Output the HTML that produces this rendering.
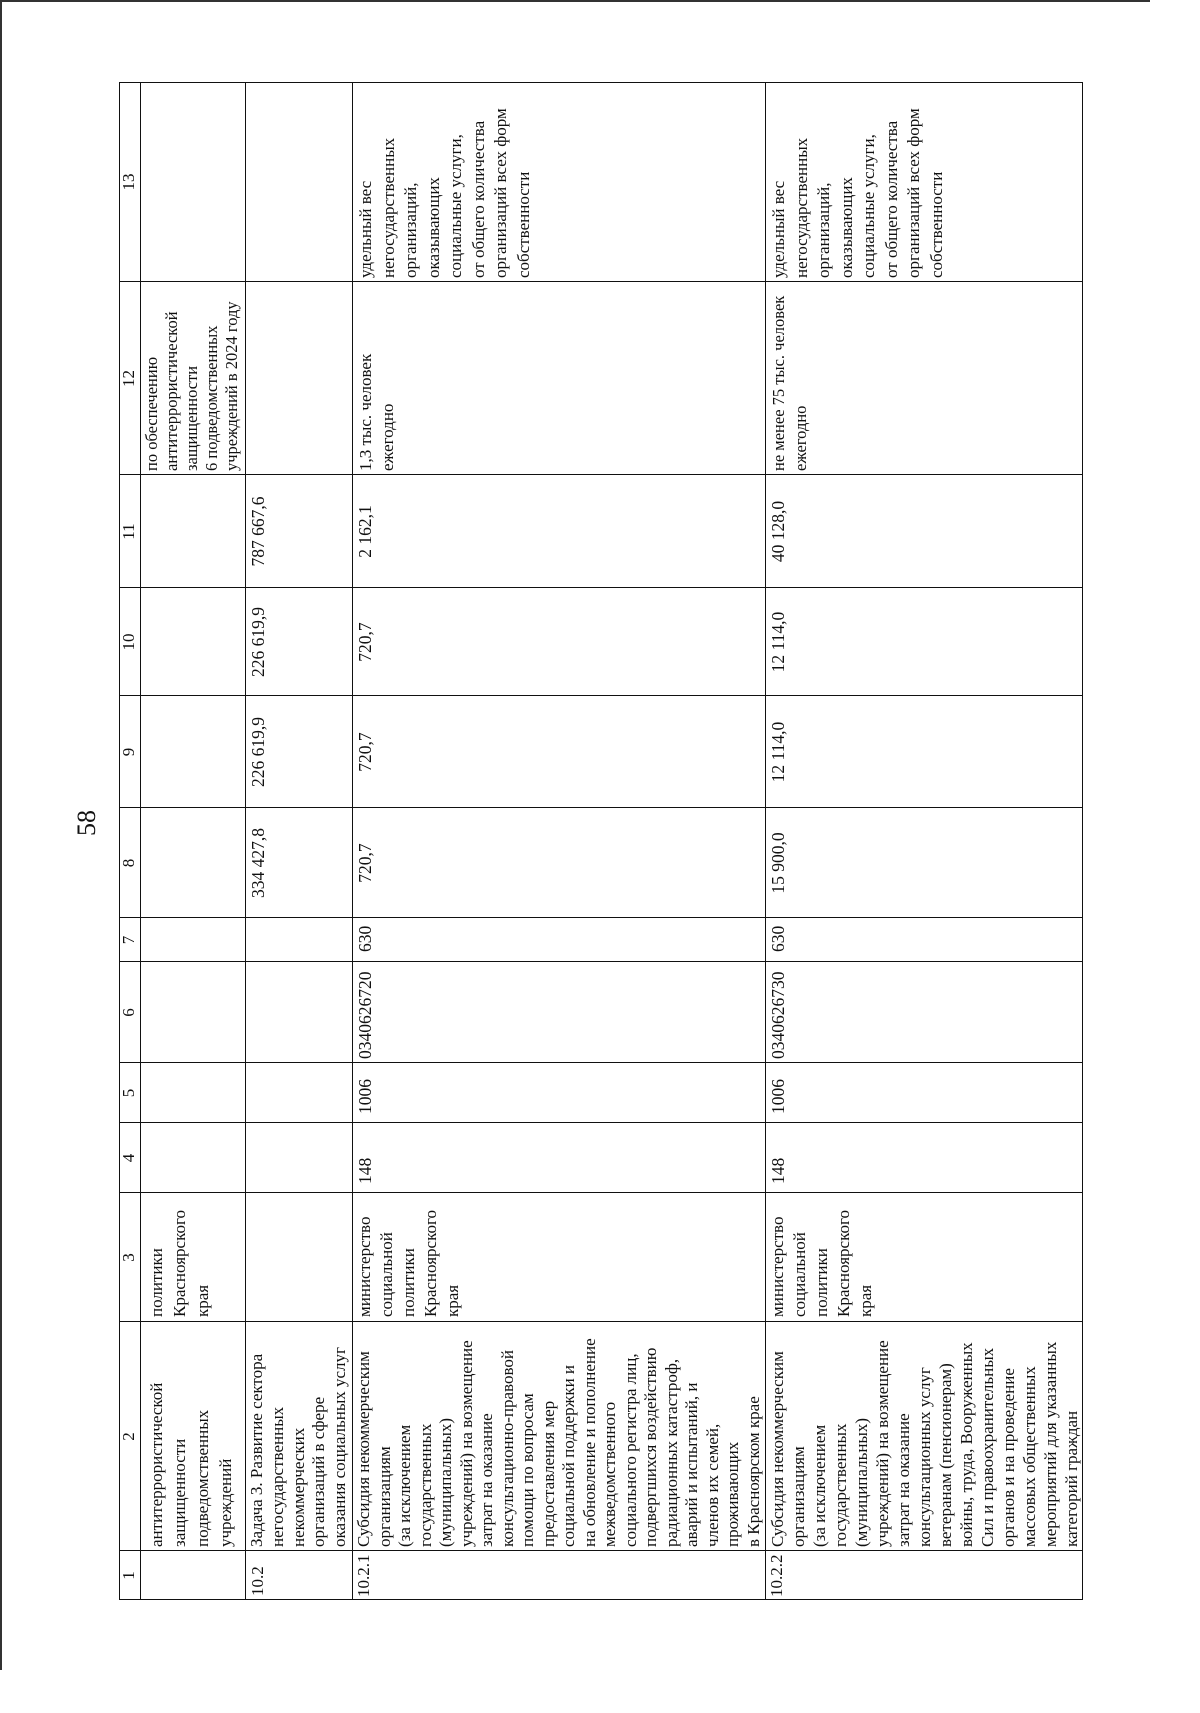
<!DOCTYPE html>
<html><head><meta charset="utf-8">
<style>
html,body{margin:0;padding:0;background:#fff;}
body{width:1200px;height:1713px;position:relative;overflow:hidden;font-family:"Liberation Serif","DejaVu Serif",serif;color:#111;}
#rot{position:absolute;left:119px;top:1600px;width:1518px;height:964px;transform-origin:0 0;transform:rotate(-90deg);}
.h{position:absolute;height:0;border-top:1.6px solid #111;}
.v{position:absolute;width:0;border-left:1.6px solid #111;}
.t{position:absolute;white-space:nowrap;font-size:17px;line-height:20.6px;}
.n{font-size:17.5px;}
.c{text-align:center;}
#pg{position:absolute;left:74px;top:808px;font-size:26px;transform:rotate(-90deg);transform-origin:50% 50%;font-family:"Liberation Serif",serif;}
</style></head><body>
<div style="position:absolute;left:0;top:0;width:1150px;height:2px;background:#333"></div>
<div style="position:absolute;left:0;top:0;width:2px;height:1670px;background:#333"></div>
<div id="pg">58</div>
<div id="rot">
<div class="h" style="left:0;top:0;width:1518px"></div>
<div class="h" style="left:0;top:21px;width:1518px"></div>
<div class="h" style="left:0;top:126px;width:1518px"></div>
<div class="h" style="left:0;top:233px;width:1518px"></div>
<div class="h" style="left:0;top:646px;width:1518px"></div>
<div class="h" style="left:0;top:963px;width:1518px"></div>
<div class="v" style="left:0;top:0;height:964px"></div>
<div class="v" style="left:49px;top:0;height:964px"></div>
<div class="v" style="left:278px;top:0;height:964px"></div>
<div class="v" style="left:407px;top:0;height:964px"></div>
<div class="v" style="left:477px;top:0;height:964px"></div>
<div class="v" style="left:537px;top:0;height:964px"></div>
<div class="v" style="left:638px;top:0;height:964px"></div>
<div class="v" style="left:682px;top:0;height:964px"></div>
<div class="v" style="left:792px;top:0;height:964px"></div>
<div class="v" style="left:904px;top:0;height:964px"></div>
<div class="v" style="left:1012px;top:0;height:964px"></div>
<div class="v" style="left:1125px;top:0;height:964px"></div>
<div class="v" style="left:1318px;top:0;height:964px"></div>
<div class="v" style="left:1517px;top:0;height:964px"></div>
<div class="t c" style="left:0;width:49px;top:0px">1</div>
<div class="t c" style="left:49px;width:229px;top:0px">2</div>
<div class="t c" style="left:278px;width:129px;top:0px">3</div>
<div class="t c" style="left:407px;width:70px;top:0px">4</div>
<div class="t c" style="left:477px;width:60px;top:0px">5</div>
<div class="t c" style="left:537px;width:101px;top:0px">6</div>
<div class="t c" style="left:638px;width:44px;top:0px">7</div>
<div class="t c" style="left:682px;width:110px;top:0px">8</div>
<div class="t c" style="left:792px;width:112px;top:0px">9</div>
<div class="t c" style="left:904px;width:108px;top:0px">10</div>
<div class="t c" style="left:1012px;width:113px;top:0px">11</div>
<div class="t c" style="left:1125px;width:193px;top:0px">12</div>
<div class="t c" style="left:1318px;width:200px;top:0px">13</div>
<div class="t" style="left:53px;top:26px;line-height:23px">антитеррористической<br>защищенности<br>подведомственных<br>учреждений</div>
<div class="t" style="left:283px;top:26px;line-height:23px">политики<br>Красноярского<br>края</div>
<div class="t" style="left:1129px;top:23px;line-height:20px;font-size:16.5px">по обеспечению<br>антитеррористической<br>защищенности<br>6 подведомственных<br>учреждений в 2024 году</div>
<div class="t" style="left:4px;top:129px">10.2</div>
<div class="t" style="left:53px;top:128px;line-height:20.8px">Задача 3. Развитие сектора<br>негосударственных<br>некоммерческих<br>организаций в сфере<br>оказания социальных услуг</div>
<div class="t c n" style="left:682px;width:110px;top:129px">334 427,8</div>
<div class="t c n" style="left:792px;width:112px;top:129px">226 619,9</div>
<div class="t c n" style="left:904px;width:108px;top:129px">226 619,9</div>
<div class="t c n" style="left:1012px;width:113px;top:129px">787 667,6</div>
<div class="t" style="left:3px;top:235px">10.2.1</div>
<div class="t" style="left:53px;top:235px;line-height:20.5px">Субсидия некоммерческим<br>организациям<br>(за исключением<br>государственных<br>(муниципальных)<br>учреждений) на возмещение<br>затрат на оказание<br>консультационно-правовой<br>помощи по вопросам<br>предоставления мер<br>социальной поддержки и<br>на обновление и пополнение<br>межведомственного<br>социального регистра лиц,<br>подвергшихся воздействию<br>радиационных катастроф,<br>аварий и испытаний, и<br>членов их семей,<br>проживающих<br>в Красноярском крае</div>
<div class="t" style="left:283px;top:235px;line-height:22px">министерство<br>социальной<br>политики<br>Красноярского<br>края</div>
<div class="t n" style="left:416px;top:236px">148</div>
<div class="t n" style="left:486px;top:236px">1006</div>
<div class="t n" style="left:541px;top:236px">0340626720</div>
<div class="t n" style="left:648px;top:236px">630</div>
<div class="t c n" style="left:682px;width:110px;top:236px">720,7</div>
<div class="t c n" style="left:792px;width:112px;top:236px">720,7</div>
<div class="t c n" style="left:904px;width:108px;top:236px">720,7</div>
<div class="t c n" style="left:1012px;width:113px;top:236px">2 162,1</div>
<div class="t" style="left:1129px;top:236px;line-height:22px">1,3 тыс. человек<br>ежегодно</div>
<div class="t" style="left:1322px;top:236px;line-height:22.5px">удельный вес<br>негосударственных<br>организаций,<br>оказывающих<br>социальные услуги,<br>от общего количества<br>организаций всех форм<br>собственности</div>
<div class="t" style="left:3px;top:648px">10.2.2</div>
<div class="t" style="left:53px;top:648px;line-height:21px">Субсидия некоммерческим<br>организациям<br>(за исключением<br>государственных<br>(муниципальных)<br>учреждений) на возмещение<br>затрат на оказание<br>консультационных услуг<br>ветеранам (пенсионерам)<br>войны, труда, Вооруженных<br>Сил и правоохранительных<br>органов и на проведение<br>массовых общественных<br>мероприятий для указанных<br>категорий граждан</div>
<div class="t" style="left:283px;top:648px;line-height:22px">министерство<br>социальной<br>политики<br>Красноярского<br>края</div>
<div class="t n" style="left:416px;top:649px">148</div>
<div class="t n" style="left:486px;top:649px">1006</div>
<div class="t n" style="left:541px;top:649px">0340626730</div>
<div class="t n" style="left:648px;top:649px">630</div>
<div class="t c n" style="left:682px;width:110px;top:649px">15 900,0</div>
<div class="t c n" style="left:792px;width:112px;top:649px">12 114,0</div>
<div class="t c n" style="left:904px;width:108px;top:649px">12 114,0</div>
<div class="t c n" style="left:1012px;width:113px;top:649px">40 128,0</div>
<div class="t" style="left:1129px;top:649px;line-height:22px;font-size:16.5px">не менее 75 тыс. человек<br>ежегодно</div>
<div class="t" style="left:1322px;top:649px;line-height:22.5px">удельный вес<br>негосударственных<br>организаций,<br>оказывающих<br>социальные услуги,<br>от общего количества<br>организаций всех форм<br>собственности</div>
</div>
</body></html>
